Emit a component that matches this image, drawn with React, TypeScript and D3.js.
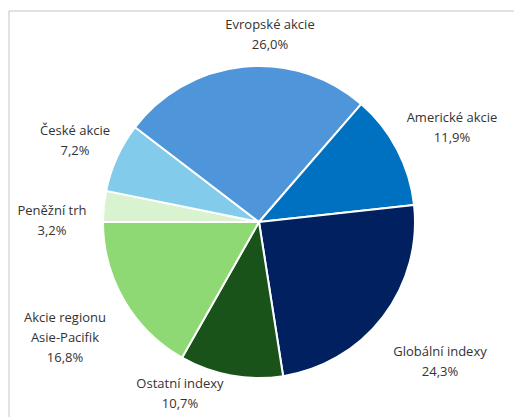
import React from "react";
import * as d3 from "d3";

const categories = [
  "Peněžní trh",
  "České akcie",
  "Evropské akcie",
  "Americké akcie",
  "Globální indexy",
  "Ostatní indexy",
  "Akcie regionu Asie-Pacifik",
];
const values = [3.2, 7.2, 26.0, 11.9, 24.3, 10.7, 16.8];
const colors = ["#d9f2d0", "#83cbeb", "#4e95d9", "#0070c0", "#002060", "#1a531a", "#8ed973"];
const labelLines = [
  ["Peněžní trh", "3,2%"],
  ["České akcie", "7,2%"],
  ["Evropské akcie", "26,0%"],
  ["Americké akcie", "11,9%"],
  ["Globální indexy", "24,3%"],
  ["Ostatní indexy", "10,7%"],
  ["Akcie regionu", "Asie-Pacifik", "16,8%"],
];
// label anchor positions (top-line center) in pixels
const labelPos: [number, number][] = [
  [52, 212],
  [75, 132],
  [270, 26],
  [452, 119],
  [440, 353],
  [180, 385],
  [65, 319],
];

const W = 514;
const H = 417;
const cx = 259;
const cy = 222;
const R = 156;

export default function App() {
  const pie = d3
    .pie<number>()
    .sort(null)
    .value((d) => d)
    .startAngle(-Math.PI / 2)
    .endAngle((3 * Math.PI) / 2);
  const arcs = pie(values);
  const arc = d3.arc<d3.PieArcDatum<number>>().innerRadius(0).outerRadius(R);

  return (
    <div style={{ position: "fixed", left: 0, top: 0 }}>
      <svg width={W} height={H} style={{ display: "block", background: "#fff" }}>
        <line x1={9} y1={11} x2={W} y2={11} stroke="#d9d9d9" strokeWidth={1.5} />
        <line x1={9} y1={11} x2={9} y2={H} stroke="#d9d9d9" strokeWidth={1.5} />
        <g transform={`translate(${cx},${cy})`}>
          {arcs.map((a, i) => (
            <path key={categories[i]} d={arc(a) || ""} fill={colors[i]} stroke="#fff" strokeWidth={2} strokeLinejoin="round" />
          ))}
        </g>
        {labelLines.map((lines, i) => (
          <text
            key={categories[i]}
            x={labelPos[i][0]}
            y={labelPos[i][1]}
            textAnchor="middle"
            fontFamily="'Open Sans', Roboto, sans-serif"
            fontSize={13}
            fontWeight={500}
            fill="#333333"
            dominantBaseline="middle"
          >
            {lines.map((l, j) => (
              <tspan key={j} x={labelPos[i][0]} dy={j === 0 ? 0 : 20}>
                {l}
              </tspan>
            ))}
          </text>
        ))}
      </svg>
    </div>
  );
}
